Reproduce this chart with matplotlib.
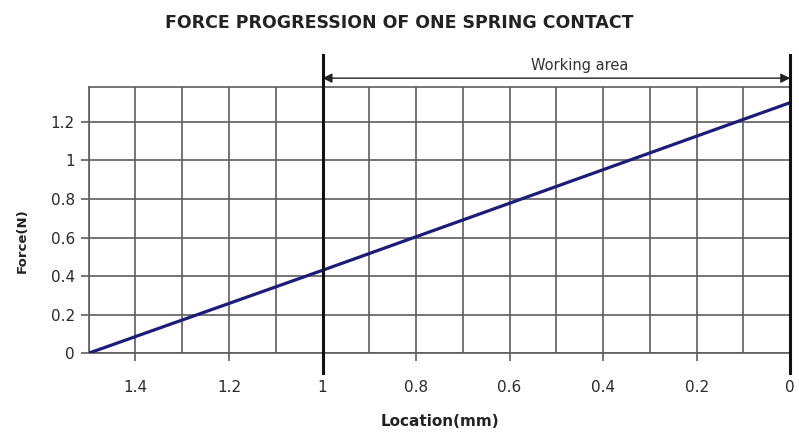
#!/usr/bin/env python

import matplotlib
matplotlib.use('Agg')
import matplotlib.pyplot as plt
from matplotlib.ticker import MultipleLocator

# values
location = [1.5, 1.0, 0.0]
force = [0.0, 0.43, 1.30]
work_start = 1.0
work_end = 0.0
x_ticks = [1.4, 1.2, 1.0, 0.8, 0.6, 0.4, 0.2, 0.0]
x_tick_labels = ['1.4', '1.2', '1', '0.8', '0.6', '0.4', '0.2', '0']
y_ticks = [0, 0.2, 0.4, 0.6, 0.8, 1.0, 1.2]
y_tick_labels = ['0', '0.2', '0.4', '0.6', '0.8', '1', '1.2']

grid_col = '#5e5e5e'

if __name__ == '__main__':
    plt.rcParams['font.family'] = ['DejaVu Sans']
    fig = plt.figure(figsize=(7.99, 4.36), dpi=100)
    ax = fig.add_axes([0.111, 0.19, 0.878, 0.61])

    ax.plot(location, force, color='#1c1c7a', lw=2.3, zorder=4)

    ax.set_xlim(1.5, 0.0)
    ax.set_ylim(0, 1.38)
    ax.set_xticks(x_ticks)
    ax.set_xticklabels(x_tick_labels)
    ax.xaxis.set_minor_locator(MultipleLocator(0.1))
    ax.set_yticks(y_ticks)
    ax.set_yticklabels(y_tick_labels)

    ax.grid(True, which='major', color=grid_col, lw=1.2)
    ax.grid(True, which='minor', axis='x', color=grid_col, lw=1.2)
    ax.tick_params(which='major', direction='out', length=6, width=1.2,
                   color=grid_col, labelsize=11, labelcolor='#2a2a2a')
    ax.tick_params(axis='x', pad=13)
    ax.tick_params(axis='y', pad=4)
    ax.tick_params(which='minor', length=0)
    for side in ['left', 'bottom', 'top']:
        ax.spines[side].set_color(grid_col)
        ax.spines[side].set_linewidth(1.2)
    ax.spines['right'].set_visible(False)

    # boundaries of the working area, running past the plot frame
    for xv in [work_start, work_end]:
        ax.axvline(xv, ymin=-0.075, ymax=1.12, color='#111111', lw=2.2,
                   clip_on=False, zorder=5)

    ax.annotate('', xy=(work_end, 1.034), xytext=(work_start, 1.034),
                xycoords=('data', 'axes fraction'),
                textcoords=('data', 'axes fraction'),
                arrowprops=dict(arrowstyle='<|-|>', color='#222222', lw=1.0,
                                mutation_scale=14, shrinkA=0, shrinkB=0))
    ax.text(0.45, 1.083, 'Working area', transform=ax.get_xaxis_transform(),
            ha='center', va='center', fontsize=10.5, color='#333333')

    ax.set_xlabel('Location(mm)', fontsize=11, fontweight='bold',
                  color='#222222', labelpad=14)
    fig.text(0.028, 1 - 241 / 436, 'Force(N)', rotation=90, ha='center',
             va='center', fontsize=9.5, fontweight='bold', color='#222222')
    fig.text(0.5, 1 - 23 / 436, 'FORCE PROGRESSION OF ONE SPRING CONTACT',
             ha='center', va='center', fontsize=12.5, fontweight='bold',
             color='#222222')

    fig.savefig('out.png', dpi=100)
